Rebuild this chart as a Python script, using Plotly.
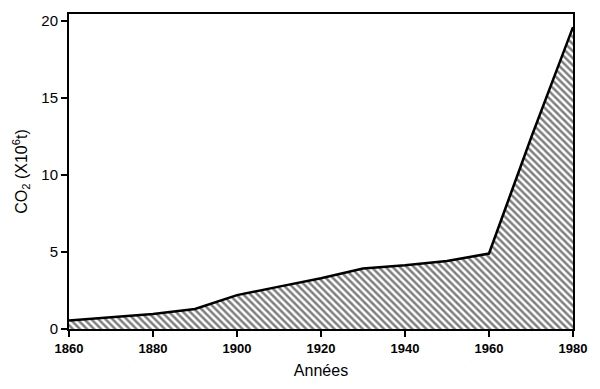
import plotly.graph_objects as go

years = [1860, 1870, 1880, 1890, 1900, 1910, 1920, 1930, 1940, 1950, 1960, 1970, 1980]
co2 = [0.55, 0.77, 0.98, 1.3, 2.2, 2.75, 3.3, 3.93, 4.14, 4.42, 4.9, 12.4, 19.6]
x_ticks = [1860, 1880, 1900, 1920, 1940, 1960, 1980]
y_ticks = [0, 5, 10, 15, 20]

fig = go.Figure()
fig.add_trace(go.Scatter(
    x=years, y=co2, mode="lines", fill="tozeroy",
    line=dict(color="black", width=2.5),
    fillcolor="rgba(0,0,0,0)",
    fillpattern=dict(shape="\\", fgcolor="black", bgcolor="white", size=5, solidity=0.5),
    hoverinfo="skip", showlegend=False,
))

fig.update_layout(
    width=600, height=389,
    margin=dict(l=69, r=27, t=12, b=60),
    paper_bgcolor="white", plot_bgcolor="white",
    font=dict(family="Liberation Sans, Arial, sans-serif", color="black"),
)
fig.update_xaxes(
    range=[1860, 1980], tickvals=x_ticks, ticktext=[str(v) for v in x_ticks],
    showgrid=False, zeroline=False, showline=True, linecolor="black", linewidth=2,
    mirror=True, ticks="outside", ticklen=6, tickwidth=2, tickcolor="black",
    tickfont=dict(size=13, weight="bold"),
    title=dict(text="Années", font=dict(size=16), standoff=10),
)
fig.update_yaxes(
    range=[0, 20.45], tickvals=y_ticks,
    showgrid=False, zeroline=False, showline=True, linecolor="black", linewidth=2,
    mirror=True, ticks="outside", ticklen=6, tickwidth=2, tickcolor="black",
    tickfont=dict(size=15),
    title=dict(text="CO<sub>2</sub> (X10<sup>6</sup>t)", font=dict(size=16), standoff=10),
)

fig.write_html("out.html")
